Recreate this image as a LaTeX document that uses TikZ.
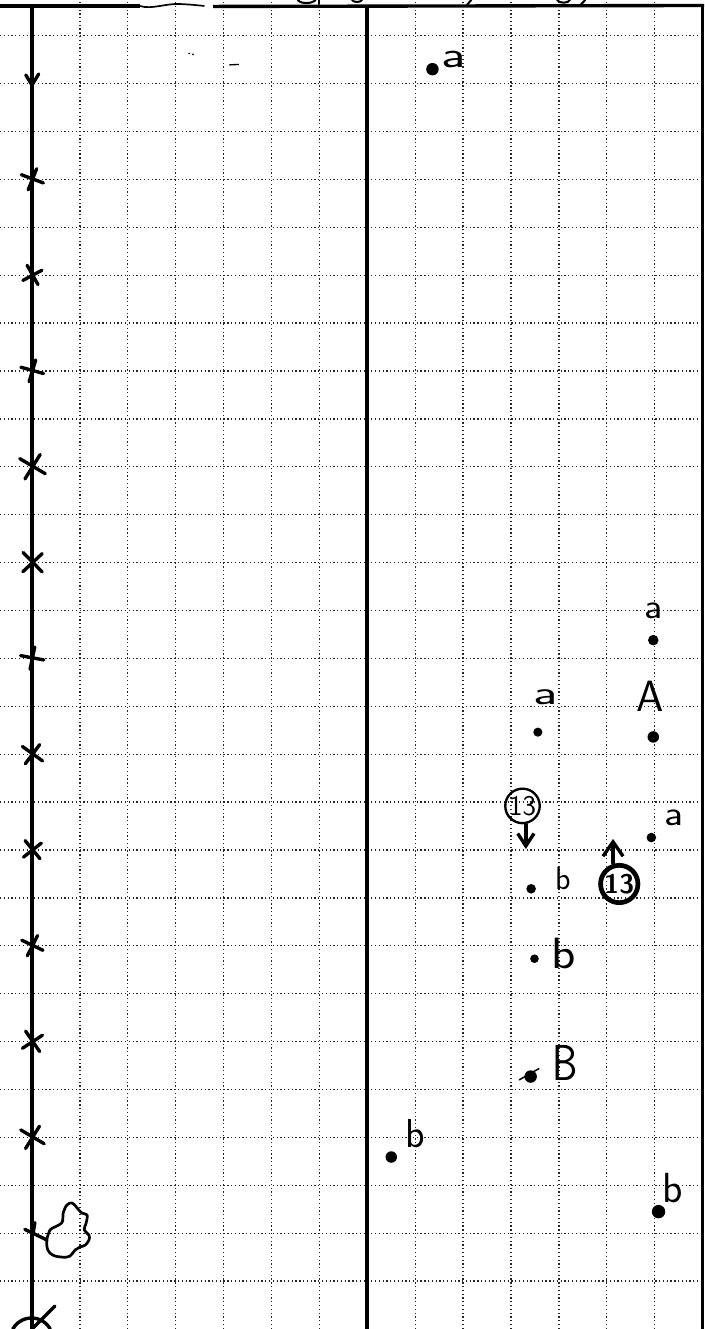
\documentclass[tikz,border=0pt]{standalone}
\usepackage{graphicx}
\usetikzlibrary{arrows.meta, positioning}

\begin{document}
\begin{tikzpicture}[
  gridline/.style={line width=0.75pt, dash pattern=on 0.75pt off 1.5pt, black!85},
  rule/.style={line width=2pt},
  ink/.style={line width=2pt, line cap=round, line join=round},
  smalla/.style={inner sep=0pt, font=\sffamily\fontsize{20}{20}\selectfont},
  letterb/.style={inner sep=0pt, font=\sffamily\fontsize{24}{24}\selectfont},
  ringed/.style={circle, draw, line width=1.4pt, inner sep=0pt, minimum size=7.2mm,
    font=\sffamily\fontsize{17}{17}\selectfont},
  barb/.style={ink, -{Straight Barb[length=2.6mm, width=3.4mm]}}
]
\path[fill=white, use as bounding box] (-0.668,0) rectangle (14.03,27.745);

% squared paper
\foreach \x in {1,...,6,8,9,...,13}
  \draw[gridline] (\x,0) -- (\x,27.745);
\foreach \y in {1,...,27}
  \draw[gridline] (-0.668,\y) -- (14.03,\y);

% top rule, broken near the left
\draw[rule] (-0.668,27.62) -- (2.25,27.62);
\draw[line width=1pt] (2.25,27.62) .. controls (2.5,27.54) and (2.8,27.68) .. (3.1,27.66)
  .. controls (3.3,27.65) .. (3.6,27.62);
\draw[rule] (3.78,27.61) -- (14.03,27.63);
% cut-off writing above the rule
\draw[ink, line width=1.2pt] (5.55,27.745) .. controls (5.6,27.66) and (5.85,27.66) .. (5.92,27.745);
\draw[ink, line width=1.2pt] (6.0,27.745) -- (6.0,27.66);
\draw[ink, line width=1.2pt] (6.68,27.745) .. controls (6.72,27.69) and (6.85,27.69) .. (6.89,27.745);
\draw[ink, line width=1.2pt] (9.17,27.745) -- (9.08,27.64);
\draw[ink, line width=1.2pt] (10.96,27.745) .. controls (11.0,27.67) and (11.2,27.67) .. (11.23,27.745);
\draw[ink, line width=1.2pt] (11.55,27.745) -- (11.45,27.64);

% solid vertical rules
\draw[rule] (0,0) -- (0,27.62);
\draw[rule, line width=2.4pt] (7,0) -- (7,27.62);
\draw[rule] (14,0) -- (14,27.63);

% specks
\fill (3.28,26.63) circle (0.02) (3.36,26.61) circle (0.02);
\draw[line width=0.8pt] (4.12,26.39) -- (4.32,26.4);

% ticks on the left line
\draw[ink] (-0.13,26.18) -- (0,25.97) -- (0.14,26.2);
\foreach \y/\r/\s in {24/15/0.95, 22/-25/0.9, 20/20/0.95, 18/5/1.2, 16/-10/1.1,
    14/25/0.95, 12/0/1, 10/-15/0.95, 8/10/0.95, 6/-20/1, 4/5/1.1}
  \draw[ink, shift={(0,\y)}, rotate=\r, scale=\s]
    (-0.2,0.16) -- (0.22,-0.14) (0.16,0.2) -- (-0.14,-0.2);
\draw[ink] (0.06,2.22) -- (0.02,1.98) (-0.15,2.08) -- (0.31,1.86);
% the blob
\draw[ink, line width=1.6pt] plot[smooth cycle, tension=0.6] coordinates {
  (0.31,1.86) (0.38,2.07) (0.48,2.13) (0.63,2.23) (0.65,2.42) (0.73,2.59)
  (0.84,2.63) (0.94,2.53) (1.04,2.42) (1.15,2.38) (1.13,2.21) (1.09,2.07)
  (1.19,1.96) (1.19,1.86) (1.11,1.75) (1.0,1.71) (0.9,1.65) (0.79,1.52)
  (0.63,1.50) (0.44,1.54) (0.33,1.65)};
% crossed ring at the bottom
\draw[ink] (-0.01,-0.216) ++(151:0.446) arc (151:29:0.446);
\draw[ink] (0,0) -- (0.48,0.48);

% right half: alleles
\fill (8.36,26.3) circle (0.13);
\node[smalla] (a1) at (8.8,26.5) {\scalebox{1.6}[1.1]{a}};

\fill (12.97,14.38) circle (0.11);
\node[smalla] (a2) at (12.97,15.0) {\scalebox{1.2}[1.05]{a}};

\node[smalla] (a3) at (10.73,13.2) {\scalebox{1.6}[1]{a}};
\fill (10.56,12.46) circle (0.095);
\node[inner sep=0pt, font=\sffamily\fontsize{26}{26}\selectfont] (bigA) at (12.9,13.2) {A};
\fill (12.97,12.36) circle (0.12);

\node[ringed] (c13a) at (10.24,10.92) {13};
\coordinate (tipA) at (10.31,10.02);
\draw[barb] (c13a.south -| tipA) -- (tipA);

\fill (10.42,9.19) circle (0.1);
\node[inner sep=0pt, font=\sffamily\fontsize{19}{19}\selectfont] (b1) at (11.08,9.4) {b};

\node[ringed, line width=2.8pt, minimum size=7.8mm, font=\sffamily\bfseries\fontsize{16}{16}\selectfont]
  (c13b) at (12.26,9.29) {13};
\coordinate (tipB) at (12.13,10.23);
\draw[barb, -{Straight Barb[length=3mm, width=4.2mm]}] (c13b.north -| tipB) -- (tipB);

\fill (12.93,10.26) circle (0.1);
\node[smalla] (a4) at (13.41,10.68) {\scalebox{1.25}[1.05]{a}};

\fill (10.49,7.73) circle (0.09);
\node[inner sep=0pt, font=\sffamily\fontsize{26}{26}\selectfont] (b2) at (11.11,7.83) {\scalebox{1.15}[1]{b}};

\fill (10.41,5.27) circle (0.13);
\draw[line width=0.9pt] (10.17,5.2) -- (10.59,5.44);
\node[inner sep=0pt, font=\sffamily\fontsize{30}{30}\selectfont] (bigB) at (11.14,5.55) {\scalebox{0.8}[1]{B}};

\fill (13.08,2.45) circle (0.14);
\node[inner sep=0pt, font=\sffamily\fontsize{25}{25}\selectfont] (b3) at (13.37,2.95) {b};

\fill (7.5,3.59) circle (0.12);
\node[letterb] (b4) at (8.0,4.07) {b};
\end{tikzpicture}
\end{document}
